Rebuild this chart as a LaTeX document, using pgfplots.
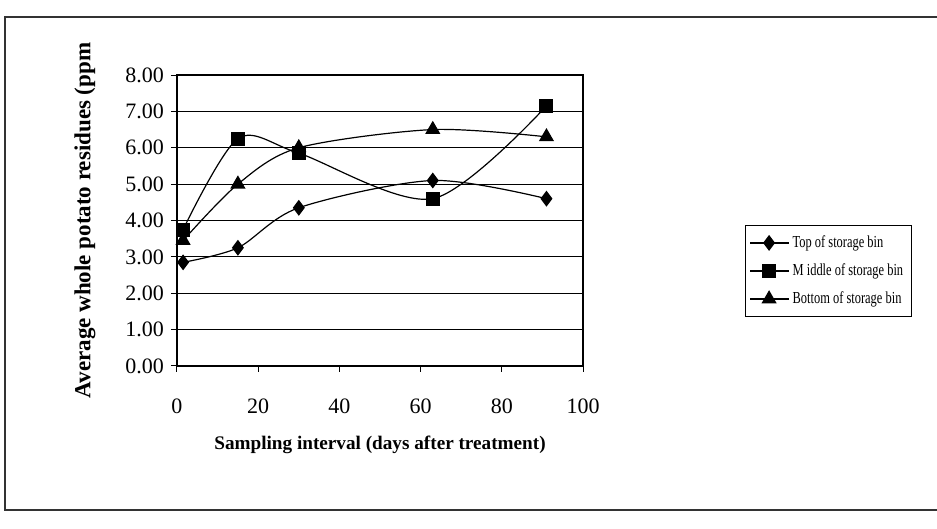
\documentclass[border=0pt]{standalone}
\usepackage{pgfplots}
\pgfplotsset{compat=1.18}
\usepackage{fontspec}
\setmainfont{Liberation Serif}
\newcommand{\legtxt}[1]{\scalebox{0.74}[1]{#1}}
\begin{document}
\begin{tikzpicture}[x=0.5pt,y=0.5pt]
\useasboundingbox (0,0) rectangle (937,529);
\draw[line width=0.6pt,black!80] (5,19) rectangle (945,512);
\begin{axis}[
  at={(88.5pt,81.5pt)}, anchor=south west,
  scale only axis, width=203pt, height=145.5pt,
  xmin=0, xmax=100, ymin=0, ymax=8,
  xtick={0,20,...,100}, ytick={0,1,...,8},
  yticklabel style={/pgf/number format/.cd,fixed,fixed zerofill,precision=2},
  /pgf/number format/assume math mode=true,
  ticklabel style={font=\fontsize{11}{13}\selectfont},
  ymajorgrids, grid style={black, line width=0.4pt},
  axis line style={black, line width=0.6pt},
  tick style={black, line width=0.5pt},
  tick align=outside, major tick length=3pt,
  xtick pos=bottom, ytick pos=left,
  xticklabel style={yshift=-10pt},
  xlabel={\textbf{Sampling interval (days after treatment)}},
  ylabel={\textbf{Average whole potato residues (ppm}},
  xlabel style={font=\fontsize{9.6}{12}\selectfont, yshift=-4pt},
  ylabel style={font=\fontsize{11.5}{13}\selectfont, at={(axis description cs:-0.227,-0.135)}, anchor=west},
  legend style={at={(1.399,0.4845)}, anchor=north west, draw=black, line width=0.5pt,
    font=\fontsize{8.4}{9.5}\selectfont, row sep=2.6pt, inner xsep=2pt, inner ysep=3pt},
  legend cell align=left,
  legend image code/.code={\draw[#1,mark repeat=2,mark phase=2] plot coordinates {(0pt,0pt) (9.5pt,0pt) (19pt,0pt)};},
]
\addplot[black, line width=0.6pt, smooth, tension=0.5, mark=diamond*, mark size=3.5pt, mark options={solid,fill=black}]
  coordinates {(1.5,2.85) (15,3.25) (30,4.35) (63,5.1) (91,4.6)};
\addlegendentry{\legtxt{Top of storage bin}}
\addplot[black, line width=0.6pt, smooth, tension=0.5, mark=square*, mark size=3.2pt, mark options={solid,fill=black}]
  coordinates {(1.5,3.75) (15,6.25) (30,5.85) (63,4.6) (91,7.15)};
\addlegendentry{\legtxt{M iddle of storage bin}}
\addplot[black, line width=0.6pt, smooth, tension=0.5, mark=triangle*, mark size=3.8pt, mark options={solid,fill=black}]
  coordinates {(1.5,3.45) (15,5.0) (30,6.0) (63,6.5) (91,6.3)};
\addlegendentry{\legtxt{Bottom of storage bin}}
\end{axis}
\end{tikzpicture}
\end{document}
